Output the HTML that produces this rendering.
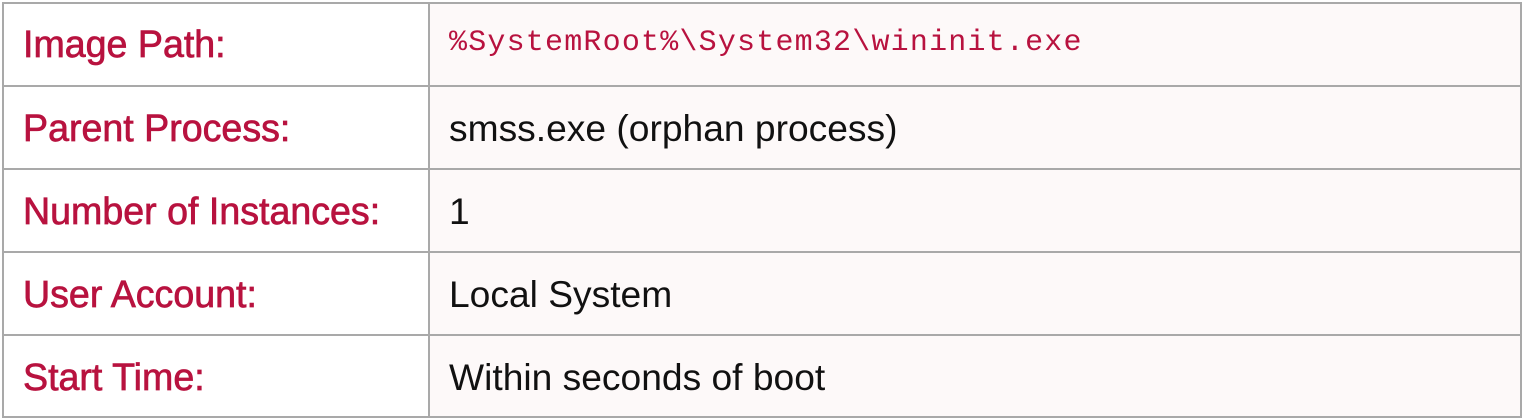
<!DOCTYPE html>
<html><head><meta charset="utf-8"><style>
body{margin:0;width:1523px;height:419px;background:#fff;overflow:hidden;position:relative;font-family:"Liberation Sans",sans-serif}
.bg{position:absolute;left:430px;top:3px;width:1091px;height:414px;background:#fdf9f9}
.h{position:absolute;background:#a9a9a9;height:2px;left:2px;width:1520px}
.v{position:absolute;background:#a9a9a9;width:2px;top:2px;height:416px}
.t{position:absolute;height:40px;line-height:40px;white-space:nowrap}
.l{left:23px;color:#b8123f;font-size:37.6px;-webkit-text-stroke:0.7px #b8123f}
.r{left:449px;color:#111;font-size:37.2px}
.m{left:449px;color:#b8123f;font-size:30px;font-family:"Liberation Mono",monospace;letter-spacing:1.2px}
</style></head><body>
<div class="bg"></div>
<div class="h" style="top:2px"></div>
<div class="h" style="top:85px"></div>
<div class="h" style="top:168px"></div>
<div class="h" style="top:251px"></div>
<div class="h" style="top:334px"></div>
<div class="h" style="top:416px"></div>
<div class="v" style="left:2px"></div>
<div class="v" style="left:428px"></div>
<div class="v" style="left:1520px"></div>
<div class="t l" style="top:24px">Image Path:</div>
<div class="t m" style="top:23px">%SystemRoot%\System32\wininit.exe</div>
<div class="t l" style="top:108px">Parent Process:</div>
<div class="t r" style="top:108px">smss.exe (orphan process)</div>
<div class="t l" style="top:191px">Number of Instances:</div>
<div class="t r" style="top:191px">1</div>
<div class="t l" style="top:274px">User Account:</div>
<div class="t r" style="top:274px">Local System</div>
<div class="t l" style="top:357px">Start Time:</div>
<div class="t r" style="top:357px">Within seconds of boot</div>
</body></html>
